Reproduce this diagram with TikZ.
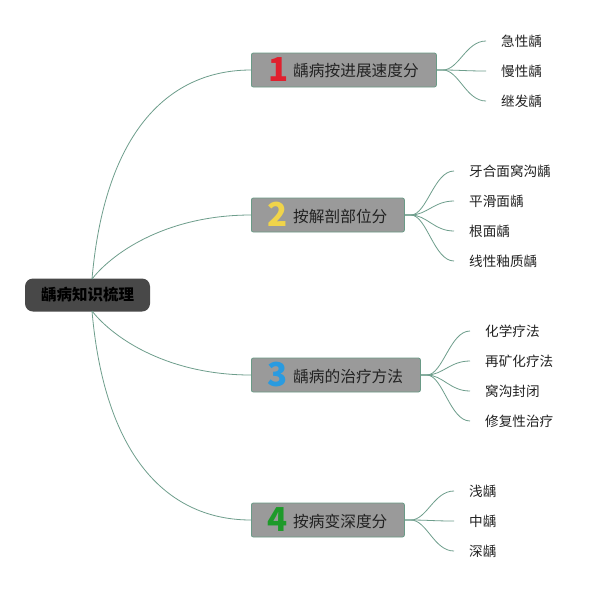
\documentclass[tikz,border=0pt]{standalone}
\usepackage{fontspec}
\setmainfont{Noto Sans CJK SC}
\definecolor{linec}{HTML}{6E9E8C}
\definecolor{boxfill}{HTML}{9A9A9A}
\definecolor{boxdraw}{HTML}{6A9A86}
\definecolor{rootfill}{HTML}{484848}
\definecolor{txt}{HTML}{222222}
\definecolor{n1}{HTML}{E0202E}
\definecolor{n2}{HTML}{F0D44A}
\definecolor{n3}{HTML}{2A9BE0}
\definecolor{n4}{HTML}{1E9A2A}
\tikzset{
  conn/.style={draw=linec, line width=0.8pt},
  branchbox/.style={draw=boxdraw, fill=boxfill, rounded corners=2pt, line width=0.8pt, minimum height=34pt, anchor=west, inner sep=0pt},
  rootbox/.style={fill=rootfill, rounded corners=8pt, minimum width=125pt, minimum height=33pt, inner sep=0pt, font=\fontsize{15.5pt}{16pt}\selectfont\bfseries, text=black},
  numlab/.style={font=\fontsize{33pt}{34pt}\selectfont\bfseries, inner sep=0pt},
  btext/.style={anchor=west, inner sep=0pt, text=txt, font=\fontsize{15.7pt}{17pt}\selectfont},
  leaf/.style={anchor=west, inner xsep=15pt, inner ysep=0pt, text=txt, font=\fontsize{13.6pt}{15pt}\selectfont},
}
\begin{document}
\begin{tikzpicture}[x=1pt,y=-1pt]
\useasboundingbox[fill=white] (0,0) rectangle (615,590);
% root
\node[rootbox] (root) at (87.5,295) {龋病知识梳理};
\coordinate (rt) at (92,279);
\coordinate (rb) at (92,311);
% branches
\node[branchbox, minimum width=185pt] (b1) at (251,70) {};
\node[branchbox, minimum width=153pt] (b2) at (251,215) {};
\node[branchbox, minimum width=169pt] (b3) at (251,375) {};
\node[branchbox, minimum width=153pt] (b4) at (251,520) {};
\node[numlab, text=n1] (k1) at (279,69.5) {1};
\node[numlab, text=n2] (k2) at (278,214.5) {2};
\node[numlab, text=n3] (k3) at (278,374.5) {3};
\node[numlab, text=n4] (k4) at (278,519.5) {4};
\node[btext] (t1) at (293,71) {龋病按进展速度分};
\node[btext] (t2) at (293,216) {按解剖部位分};
\node[btext] (t3) at (293,376) {龋病的治疗方法};
\node[btext] (t4) at (293,521) {按病变深度分};
% root connectors
\draw[conn] (rt) .. controls (105,130) and (170,70) .. (b1.west);
\draw[conn] (rt) .. controls (115,250) and (170,215) .. (b2.west);
\draw[conn] (rb) .. controls (115,340) and (170,375) .. (b3.west);
\draw[conn] (rb) .. controls (105,460) and (170,520) .. (b4.west);
% leaves
\node[leaf] (l11) at (486,41) {急性龋};
\node[leaf] (l12) at (486,71) {慢性龋};
\node[leaf] (l13) at (486,101) {继发龋};
\node[leaf] (l21) at (454,171) {牙合面窝沟龋};
\node[leaf] (l22) at (454,201) {平滑面龋};
\node[leaf] (l23) at (454,231) {根面龋};
\node[leaf] (l24) at (454,261) {线性釉质龋};
\node[leaf] (l31) at (470,331) {化学疗法};
\node[leaf] (l32) at (470,361) {再矿化疗法};
\node[leaf] (l33) at (470,391) {窝沟封闭};
\node[leaf] (l34) at (470,421) {修复性治疗};
\node[leaf] (l41) at (454,491) {浅龋};
\node[leaf] (l42) at (454,521) {中龋};
\node[leaf] (l43) at (454,551) {深龋};
% leaf connectors
\foreach \b/\l in {b1/l11,b1/l12,b1/l13,b2/l21,b2/l22,b2/l23,b2/l24,b3/l31,b3/l32,b3/l33,b3/l34,b4/l41,b4/l42,b4/l43}{
  \draw[conn] (\b.east) -- ++(6,0) .. controls ([xshift=22pt]\b.east) and ([xshift=-20pt]\l.west) .. (\l.west);
}
\end{tikzpicture}
\end{document}
